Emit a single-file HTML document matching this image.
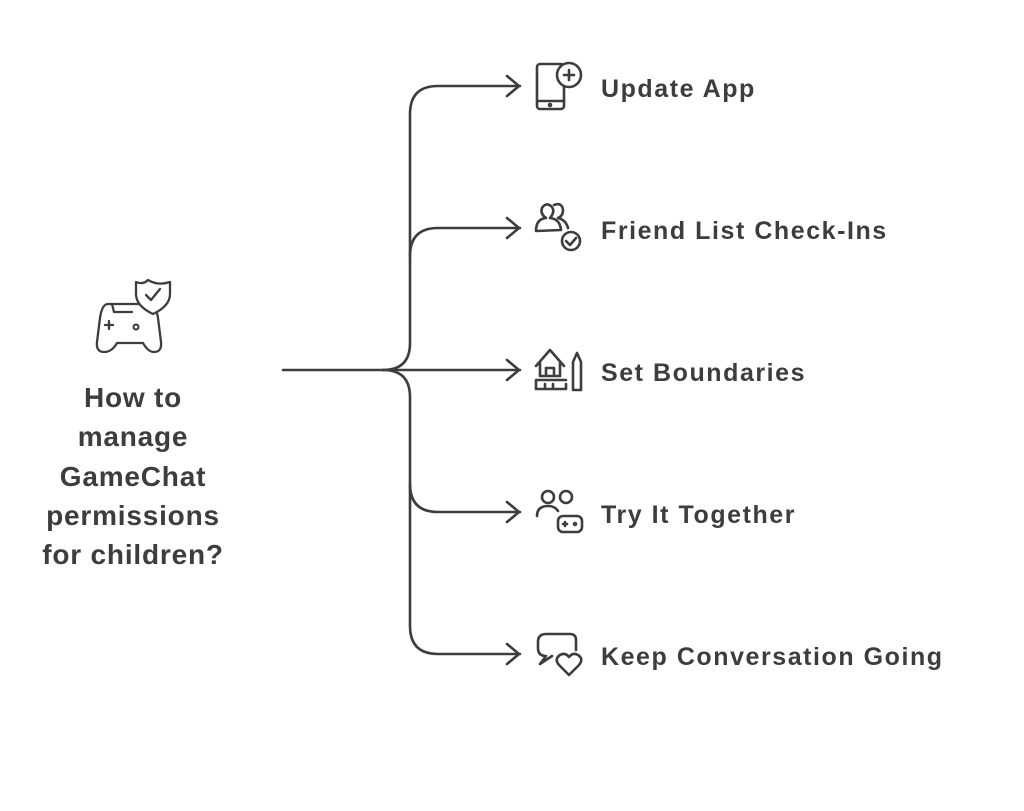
<!DOCTYPE html>
<html><head><meta charset="utf-8"><style>
body{margin:0;background:#fff;width:1024px;height:811px;overflow:hidden;position:relative;font-family:"Liberation Sans",sans-serif;color:#3d3d3d}
.t{position:absolute;left:601px;font-weight:bold;font-size:25px;letter-spacing:1.55px;line-height:30px;white-space:nowrap}
.main{position:absolute;left:13px;width:240px;top:378px;text-align:center;font-weight:bold;font-size:28px;line-height:39.3px;letter-spacing:0.8px}
</style></head><body>
<svg width="1024" height="811" style="position:absolute;left:0;top:0" fill="none" stroke="#3d3d3d" stroke-width="2.6" stroke-linecap="round" stroke-linejoin="round">
<path d="M283 370 H520"/>
<path d="M383 370 Q410 370 410 343 V114 Q410 86 438 86 H520"/>
<path d="M410 256 Q410 228 438 228 H520"/>
<path d="M383 370 Q410 370 410 397 V626 Q410 654 438 654 H520"/>
<path d="M410 484 Q410 512 438 512 H520"/>
<path d="M507 76 L519 86 L507 96 M507 218 L519 228 L507 238 M507 360 L519 370 L507 380 M507 502 L519 512 L507 522 M507 644 L519 654 L507 664"/>
<!-- phone -->
<rect x="537" y="64" width="27" height="45" rx="3"/><path d="M537 101 H564"/><circle cx="550" cy="105" r="1"/>
<circle cx="569" cy="75" r="12" fill="#fff"/><path d="M564 75 H574 M569 70 V80"/>
<!-- friends -->
<path d="M536 231 Q536 219 546 218 Q540 214 542 208 Q546 202 551 206 Q556 211 550 218 Q560 219 561 230 Z"/>
<path d="M554 205 Q562 202 563 210 Q563 216 558 218 Q566 220 568 228"/>
<circle cx="571" cy="241" r="9"/><path d="M566 241 L570 245 L576 238"/>
<!-- house -->
<path d="M536 366 L550 350 L564 366 M540 363 V376 H560 V363 M546 376 V368 H554 V376 M536 380 H566 M536 380 V389 H566 V384 M545 384 V389 M553 384 V389"/>
<path d="M573 362 L577 353 L581 362 V390 H573 Z"/>
<!-- try together -->
<circle cx="548" cy="497" r="6"/><circle cx="566" cy="497" r="6"/>
<path d="M537 516 Q537 506 548 506 Q555 506 558 511"/>
<rect x="558" y="516" width="24" height="16" rx="5"/><path d="M565 522 V526 M563 524 H567"/><circle cx="575" cy="524" r="1"/>
<!-- conversation -->
<path d="M546 634 H570 Q576 634 576 640 V650 M546 634 Q538 634 538 642 V648 Q538 656 546 656 L540 664 L552 656"/>
<path d="M569 675 L559 665 Q554 659 560 655 Q565 652 569 657 Q573 652 578 655 Q584 659 579 665 Z"/>
<!-- gamepad -->
<path d="M108 304 H148 Q156 304 158 318 L161 342 Q162 352 154 352 Q148 352 143 343 H117 Q112 352 104 352 Q96 352 97 342 L100 318 Q102 304 108 304 Z" stroke-width="2.3"/>
<path d="M105 325 H113 M109 321 V329 M112 304 L114 312 H132" stroke-width="2.3"/><circle cx="136" cy="327" r="2.5" stroke-width="2"/>
<path d="M148 280 Q158 286 170 282 V294 Q170 306 153 314 Q136 306 136 294 V282 Q143 285 148 280 Z" fill="#fff" stroke-width="2.3"/>
<path d="M146 295 L151 300 L160 289" stroke-width="2.3"/>
</svg>
<div class="t" style="top:74px">Update App</div>
<div class="t" style="top:216px">Friend List Check-Ins</div>
<div class="t" style="top:358px">Set Boundaries</div>
<div class="t" style="top:500px">Try It Together</div>
<div class="t" style="top:642px">Keep Conversation Going</div>
<div class="main">How to<br>manage<br>GameChat<br>permissions<br>for children?</div>
</body></html>
